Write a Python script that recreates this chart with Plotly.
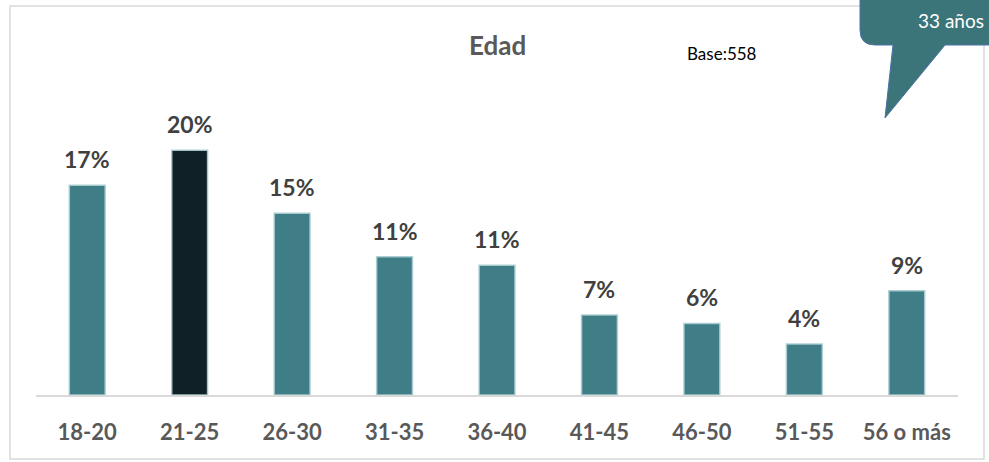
import plotly.graph_objects as go

# Age distribution (percent of respondents)
categories = ["18-20", "21-25", "26-30", "31-35", "36-40", "41-45", "46-50", "51-55", "56 o más"]
values = [17.3, 20.2, 15.0, 11.4, 10.7, 6.6, 5.9, 4.2, 8.6]
highlight = "21-25"

title_text = "Edad"
base_text = "Base:558"
callout_text = "33 años"

W, H = 989, 462
M = dict(l=36, r=31, t=92, b=67)
PW = W - M["l"] - M["r"]
PH = H - M["t"] - M["b"]


def px(x):
    return (x - M["l"]) / PW


def py(y):
    return (H - M["b"] - y) / PH


teal = "#3F7E87"
dark = "#0F2126"
colors = [dark if c == highlight else teal for c in categories]

fig = go.Figure(
    go.Bar(
        x=categories,
        y=values,
        width=0.35,
        marker=dict(color=colors, line=dict(color="rgba(170,205,210,0.9)", width=1.5)),
        hoverinfo="skip",
    )
)

# Value labels above each bar
for c, v in zip(categories, values):
    fig.add_annotation(
        x=c, y=v, text=f"<b>{round(v):d}%</b>", showarrow=False,
        yanchor="bottom", yshift=10,
        font=dict(family="Lato", size=23, color="#404040"),
    )

# Outer frame
fig.add_shape(type="rect", xref="paper", yref="paper",
              x0=px(10), x1=px(984), y0=py(459), y1=py(6),
              line=dict(color="#D9D9D9", width=1.5), layer="below")

fig.add_annotation(xref="paper", yref="paper", x=px(497), y=py(45),
                   text=f"<b>{title_text}</b>", showarrow=False,
                   xanchor="center", yanchor="middle",
                   font=dict(family="Lato", size=26, color="#595959"))
fig.add_annotation(xref="paper", yref="paper", x=px(685), y=py(53),
                   text=base_text, showarrow=False,
                   xanchor="left", yanchor="middle",
                   font=dict(family="Lato", size=17, color="#000000"))

# Speech-bubble callout in the top-right corner
r = 15
path = f"M {px(860)},{py(-10)} L {px(860)},{py(45 - r)} "
path += f"Q {px(860)},{py(45)} {px(860 + r)},{py(45)} "
path += f"L {px(893)},{py(45)} L {px(885)},{py(118)} L {px(945)},{py(45)} "
path += f"L {px(1000)},{py(45)} L {px(1000)},{py(-10)} Z"
fig.add_shape(type="path", xref="paper", yref="paper", path=path,
              fillcolor="#3B7579", line=dict(color="#4A72A8", width=1))
fig.add_annotation(xref="paper", yref="paper", x=px(916), y=py(20),
                   text=callout_text, showarrow=False,
                   xanchor="left", yanchor="middle",
                   font=dict(family="Lato", size=19, color="#FFFFFF"))

fig.update_layout(
    width=W, height=H, margin=M,
    paper_bgcolor="white", plot_bgcolor="white",
    showlegend=False, bargap=0.6,
    xaxis=dict(showline=True, linecolor="#D9D9D9", linewidth=1.5,
               showgrid=False, ticks="", ticklabelstandoff=17,
               tickfont=dict(family="Lato", size=22, color="#595959"),
               tickprefix="<b>", ticksuffix="</b>", fixedrange=True),
    yaxis=dict(range=[0, 25], visible=False, showgrid=False, fixedrange=True),
)

fig.write_html("out.html", config={"displayModeBar": False})
